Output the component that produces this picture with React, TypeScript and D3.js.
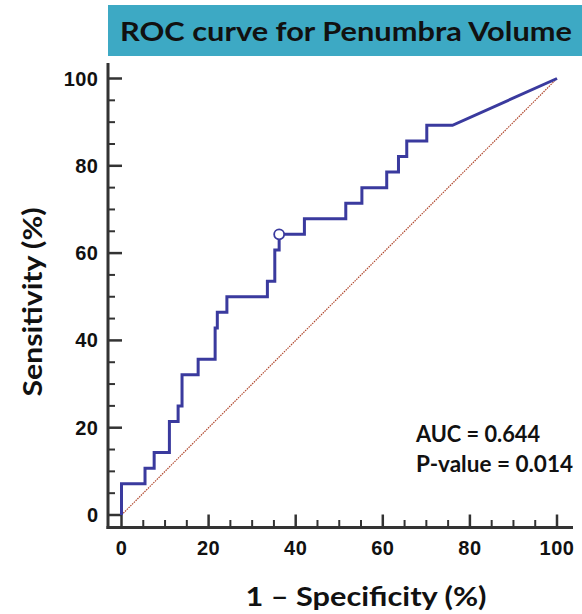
import React from "react";
import * as d3 from "d3";

// ROC step vertices (right end of each horizontal run): 1 - specificity (%), sensitivity (%)
const fprSteps = [0, 5.4, 7.5, 11.0, 13.0, 13.9, 17.6, 21.5, 22.0, 24.2, 33.5, 35.2, 36.2, 42.0, 51.5, 55.2, 60.9, 63.6, 65.5, 70.1, 76.0];
const sensSteps = [0, 7.14, 10.71, 14.29, 21.43, 25.0, 32.14, 35.71, 42.86, 46.43, 50.0, 53.57, 60.71, 64.29, 67.86, 71.43, 75.0, 78.57, 82.14, 85.71, 89.29];
const endPoint = [100, 100];
const criterionPoint = [36.2, 64.29];
const majorTicks = [0, 20, 40, 60, 80, 100];
const minorTicks = [5, 10, 15, 25, 30, 35, 45, 50, 55, 65, 70, 75, 85, 90, 95];
const titleText = "ROC curve for Penumbra Volume";
const xTitle = "1 – Specificity (%)";
const yTitle = "Sensitivity (%)";
const annotations = ["AUC = 0.644", "P-value = 0.014"];

export default function App() {
  const W = 582, H = 614;
  const x = d3.scaleLinear().domain([0, 100]).range([121.5, 557]);
  const y = d3.scaleLinear().domain([0, 100]).range([515, 78.5]);
  const axisX = 108, axisY = 527.5;

  // build vertices: vertical first, then horizontal
  const verts: [number, number][] = [[fprSteps[0], sensSteps[0]]];
  for (let i = 1; i < fprSteps.length; i++) {
    verts.push([fprSteps[i - 1], sensSteps[i]]);
    verts.push([fprSteps[i], sensSteps[i]]);
  }
  verts.push([endPoint[0], endPoint[1]]);
  const line = d3.line<[number, number]>().x((d) => x(d[0])).y((d) => y(d[1]));

  const labelFont = "'Liberation Sans', Arial, sans-serif";
  const textFont = "Lato, 'Open Sans', sans-serif";
  const axisColor = "#333";
  const annWidths = [124, 157];

  return (
    <svg width={W} height={H} style={{ position: "absolute", left: 0, top: 0 }}>
      <rect x={0} y={0} width={W} height={H} fill="#fff" />
      {/* title box */}
      <rect x={108} y={5} width={474} height={51} fill="#3DA9C4" />
      <text x={346} y={41} textAnchor="middle" fontFamily={textFont} fontWeight={700} fontSize={27} fill="#111"
        textLength={452} lengthAdjust="spacingAndGlyphs">{titleText}</text>

      {/* diagonal reference */}
      <line x1={x(0)} y1={y(0)} x2={x(100)} y2={y(100)} stroke="#b0482e" strokeWidth={1.2} strokeDasharray="1.5,1" />

      {/* axes */}
      <line x1={axisX} y1={63} x2={axisX} y2={axisY + 1.5} stroke={axisColor} strokeWidth={3} />
      <line x1={axisX - 1.5} y1={axisY} x2={573} y2={axisY} stroke={axisColor} strokeWidth={3} />
      {majorTicks.map((t) => (
        <g key={"ym" + t}>
          <line x1={axisX} x2={122} y1={y(t)} y2={y(t)} stroke={axisColor} strokeWidth={2.5} />
          <text x={98.5} y={y(t) + 7} textAnchor="end" fontFamily={labelFont} fontWeight={700} fontSize={20} letterSpacing={0.5} fill="#111">{t}</text>
        </g>
      ))}
      {minorTicks.map((t) => (
        <line key={"yn" + t} x1={axisX} x2={115} y1={y(t)} y2={y(t)} stroke={axisColor} strokeWidth={2} />
      ))}
      {majorTicks.map((t) => (
        <g key={"xm" + t}>
          <line x1={x(t)} x2={x(t)} y1={axisY} y2={514.5} stroke={axisColor} strokeWidth={2.5} />
          <text x={x(t)} y={554.5} textAnchor="middle" fontFamily={labelFont} fontWeight={700} fontSize={20} letterSpacing={0.5} fill="#111">{t}</text>
        </g>
      ))}
      {minorTicks.map((t) => (
        <line key={"xn" + t} x1={x(t)} x2={x(t)} y1={axisY} y2={520} stroke={axisColor} strokeWidth={2} />
      ))}

      {/* ROC curve */}
      <path d={line(verts) || ""} fill="none" stroke="#3A3A9E" strokeWidth={3} strokeLinejoin="miter" />
      <circle cx={x(criterionPoint[0])} cy={y(criterionPoint[1])} r={5} fill="#fff" stroke="#3A3A9E" strokeWidth={1.8} />

      {/* annotations */}
      {annotations.map((a, i) => (
        <text key={a} x={416} y={442 + i * 30} fontFamily={textFont} fontWeight={700} fontSize={22} fill="#111"
          textLength={annWidths[i]} lengthAdjust="spacingAndGlyphs">{a}</text>
      ))}

      {/* axis titles */}
      <text x={366} y={606} textAnchor="middle" fontFamily={textFont} fontWeight={700} fontSize={27} fill="#111"
        textLength={241} lengthAdjust="spacingAndGlyphs">{xTitle}</text>
      <text transform={`translate(42,302) rotate(-90)`} textAnchor="middle" fontFamily={textFont} fontWeight={700} fontSize={27} fill="#111"
        textLength={189} lengthAdjust="spacingAndGlyphs">{yTitle}</text>
    </svg>
  );
}
